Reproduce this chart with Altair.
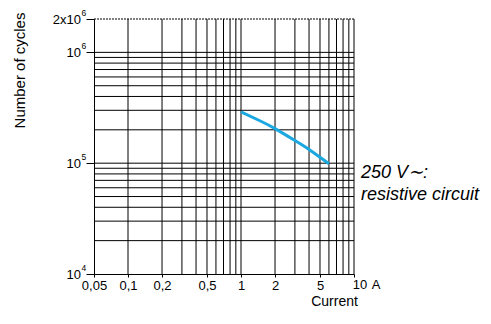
import altair as alt
import pandas as pd

# ---- data ----
current = [1, 1.5, 2, 3, 4, 5, 6]
cycles = [290000, 239000, 205000, 160000, 133000, 113000, 99000]

x_grid = [0.1, 0.2, 0.3, 0.4, 0.5, 0.6, 0.7, 0.8, 0.9, 1, 2, 3, 4, 5, 6, 7, 8, 9, 10]
y_grid = [2e4, 3e4, 4e4, 5e4, 6e4, 7e4, 8e4, 9e4, 1e5,
          2e5, 3e5, 4e5, 5e5, 6e5, 7e5, 8e5, 9e5, 1e6]
y_top = [2e6]

x_tick_values = [0.05, 0.1, 0.2, 0.5, 1, 2, 5, 10]
x_tick_labels = ["0,05", "0,1", "0,2", "0,5", "1", "2", "5", "10"]
x_unit = "A"

y_tick_values = [1e4, 1e5, 1e6, 2e6]
y_tick_bases = ["10", "10", "10", "2x10"]
y_tick_exps = ["4", "5", "6", "6"]

annotation_lines = ["250 V\u223c:", "resistive circuit"]

FONT = "Liberation Sans"
xs = alt.Scale(type="log", domain=[0.05, 10], nice=False)
ys = alt.Scale(type="log", domain=[1e4, 2e6], nice=False)

expr_parts = [f"datum.value == {v} ? '{l}'" for v, l in zip(x_tick_values[:-1], x_tick_labels[:-1])]
label_expr = " : ".join(expr_parts) + " : ''"

x_axis = alt.Axis(values=x_tick_values, labelExpr=label_expr, title="Current", grid=False,
                  tickSize=3, tickColor="black", domainColor="black", labelFont=FONT,
                  labelFontSize=13, labelColor="black", labelPadding=2, labelFlush=False,
                  labelOverlap=False, titleFont=FONT, titleFontSize=14, titleFontWeight="normal",
                  titleColor="black", titleX=240, titleY=31, titleAlign="center",
                  titleBaseline="alphabetic")
y_axis = alt.Axis(values=y_tick_values, labels=False, grid=False, tickSize=8, tickColor="black",
                  domainColor="black", title="Number of cycles", titleFont=FONT, titleFontSize=15,
                  titleFontWeight="normal", titleColor="black", titleAngle=270, titleX=-70,
                  titleY=51, titleAlign="center", titleBaseline="alphabetic")


def X(field):
    return alt.X(field, scale=xs, axis=x_axis)


def Y(field):
    return alt.Y(field, scale=ys, axis=y_axis)


vgrid = alt.Chart(pd.DataFrame({"x": x_grid})).mark_rule(color="black", strokeWidth=1).encode(
    x=X("x:Q"))
hgrid = alt.Chart(pd.DataFrame({"y": y_grid})).mark_rule(color="black", strokeWidth=1).encode(
    y=Y("y:Q"))
top = alt.Chart(pd.DataFrame({"y": y_top})).mark_rule(color="black", strokeWidth=1, strokeDash=[2, 1]).encode(
    y=Y("y:Q"))

curve = alt.Chart(pd.DataFrame({"current": current, "cycles": cycles})).mark_line(
    color="#1BA8E0", strokeWidth=3, interpolate="natural").encode(
    x=X("current:Q"), y=Y("cycles:Q"))

ylab_df = pd.DataFrame({"y": y_tick_values, "base": y_tick_bases, "exp": y_tick_exps})
ybase = alt.Chart(ylab_df).mark_text(align="right", baseline="alphabetic", font=FONT, fontSize=13,
                                     color="black", dy=5).encode(
    x=alt.value(-13), y=Y("y:Q"), text="base:N")
yexp = alt.Chart(ylab_df).mark_text(align="left", baseline="alphabetic", font=FONT, fontSize=8.5,
                                    color="black", dy=-3).encode(
    x=alt.value(-12.5), y=Y("y:Q"), text="exp:N")

end_df = pd.DataFrame({"x": [x_tick_values[-1]], "y": [y_tick_values[0]],
                       "lab": [x_tick_labels[-1]], "unit": [x_unit]})
xend = alt.Chart(end_df).mark_text(align="center", baseline="alphabetic", font=FONT, fontSize=13,
                                   color="black", dx=6, dy=15.3).encode(
    x=X("x:Q"), y=Y("y:Q"), text="lab:N")
xunit = alt.Chart(end_df).mark_text(align="center", baseline="alphabetic", font=FONT, fontSize=13,
                                    color="black", dx=22, dy=15.3).encode(
    x=X("x:Q"), y=Y("y:Q"), text="unit:N")

ann1 = alt.Chart(pd.DataFrame({"t": [annotation_lines[0]]})).mark_text(
    align="left", baseline="alphabetic", font=FONT, fontSize=18, fontStyle="italic", color="black").encode(
    x=alt.value(267), y=alt.value(159), text="t:N")
ann2 = alt.Chart(pd.DataFrame({"t": [annotation_lines[1]]})).mark_text(
    align="left", baseline="alphabetic", font=FONT, fontSize=18, fontStyle="italic", color="black").encode(
    x=alt.value(267), y=alt.value(181), text="t:N")

chart = alt.layer(vgrid, hgrid, top, curve, ybase, yexp, xend, xunit, ann1, ann2).properties(
    width=260, height=255,
    autosize=alt.AutoSizeParams(type="none"),
    padding={"left": 86, "top": 11, "right": 129, "bottom": 34},
).configure_view(stroke=None)

chart.save("out.html", embed_options={"renderer": "svg", "actions": False})
